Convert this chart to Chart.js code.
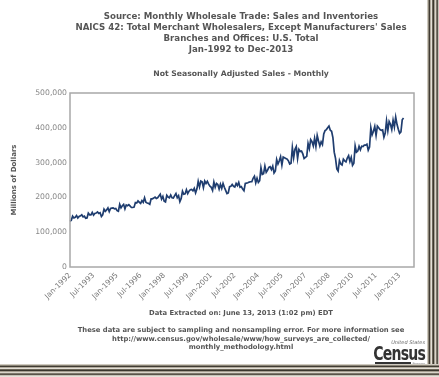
<!DOCTYPE html>
<html>
<head>
<meta charset="utf-8">
<script src="https://cdn.jsdelivr.net/npm/chart.js@4"></script>
<style>
  html, body { margin: 0; padding: 0; background: #fff; overflow: hidden; }
  #frame { position: relative; width: 439px; height: 377px; background: #fff; }
  .edge { position: absolute; }
  #rframe {
    left: 427px; top: 0; width: 12px; height: 377px;
    background: linear-gradient(to right, #cfcac0 0 1px, #8a8476 1px 2px, #403b33 2px 3px, #b3ac9e 3px 4px,
      #e3dfd7 4px 5px, #6d6759 5px 6px, #3a362e 6px 7px, #a49d8f 7px 8px, #d9d4ca 8px 9px,
      #7e786b 9px 10px, #58534a 10px 11px, #c8c2b7 11px 12px);
  }
  #bframe {
    left: 0; top: 364px; width: 439px; height: 13px;
    background: linear-gradient(to bottom, #cfcac0 0 1px, #8a8476 1px 2px, #403b33 2px 3px, #b3ac9e 3px 4px,
      #e3dfd7 4px 5px, #6d6759 5px 6px, #3a362e 6px 7px, #a49d8f 7px 8px, #d9d4ca 8px 9px,
      #7e786b 9px 10px, #58534a 10px 11px, #c8c2b7 11px 12px, #e6e2da 12px 13px);
  }
  canvas { position: absolute; left: 0; top: 0; }
  .txt { position: absolute; left: 41px; width: 400px; text-align: center; color: #555;
         font-family: "DejaVu Sans", Verdana, sans-serif; font-weight: bold; white-space: nowrap; }
  #title { top: 11px; font-size: 8.65px; line-height: 11px; }
  #sub { top: 69px; font-size: 7.7px; line-height: 10px; }
  #extract { top: 309px; font-size: 6.8px; line-height: 9px; }
  #note { top: 326px; font-size: 6.8px; line-height: 8.6px; }
  #logo { position: absolute; left: 345px; top: 339px; width: 80px; color: #333; text-align: right; }
  #logo .us { font: italic 5px/6px "DejaVu Sans", sans-serif; color: #666; }
  #logo .cen { font: bold 20px/16px "DejaVu Sans Condensed", "Liberation Sans", sans-serif;
               letter-spacing: -1px; transform: scaleX(0.78); transform-origin: right center; white-space: nowrap; }
  #logo .bar { height: 2px; background: #333; margin: 1px 0 0 30px; width: 36px; }
  #logo .bu { font: 3.5px "DejaVu Sans", sans-serif; color: #666; margin-top: -2px; }
</style>
</head>
<body>
<div id="frame">
  <canvas id="salesChart" width="427" height="364"></canvas>
  <div class="txt" id="title">Source: Monthly Wholesale Trade: Sales and Inventories<br>NAICS 42: Total Merchant Wholesalers, Except Manufacturers' Sales<br>Branches and Offices: U.S. Total<br>Jan-1992 to Dec-2013</div>
  <div class="txt" id="sub">Not Seasonally Adjusted Sales - Monthly</div>
  <div class="txt" id="extract">Data Extracted on: June 13, 2013 (1:02 pm) EDT</div>
  <div class="txt" id="note">These data are subject to sampling and nonsampling error. For more information see<br>http://www.census.gov/wholesale/www/how_surveys_are_collected/<br>monthly_methodology.html</div>
  <div id="logo"><div class="us">United States</div><div class="cen">Census</div><div class="bar"></div><div class="bu">Bureau</div></div>
  <div class="edge" id="rframe"></div>
  <div class="edge" id="bframe"></div>
</div>
<script>
const months = ['Jan', 'Feb', 'Mar', 'Apr', 'May', 'Jun', 'Jul', 'Aug', 'Sep', 'Oct', 'Nov', 'Dec'];
const years = [1992, 1993, 1994, 1995, 1996, 1997, 1998, 1999, 2000, 2001, 2002, 2003,
               2004, 2005, 2006, 2007, 2008, 2009, 2010, 2011, 2012, 2013];

// monthly sales, millions of dollars
const s1992 = [131000, 134000, 146000, 141000, 143000, 148000, 141000, 145000, 147000, 150000, 144000, 146000];
const s1993 = [140000, 141000, 155000, 150000, 150000, 157000, 149000, 154000, 155000, 158000, 154000, 156000];
const s1994 = [145000, 150000, 166000, 160000, 164000, 170000, 159000, 168000, 169000, 170000, 167000, 168000];
const s1995 = [162000, 160000, 180000, 170000, 176000, 180000, 167000, 178000, 176000, 179000, 175000, 171000];
const s1996 = [171000, 172000, 185000, 184000, 190000, 186000, 183000, 191000, 186000, 199000, 186000, 184000];
const s1997 = [183000, 180000, 196000, 196000, 198000, 201000, 197000, 199000, 204000, 209000, 195000, 203000];
const s1998 = [189000, 187000, 206000, 201000, 199000, 207000, 199000, 198000, 205000, 211000, 199000, 205000];
const s1999 = [188000, 197000, 218000, 209000, 210000, 222000, 211000, 218000, 222000, 223000, 219000, 226000];
const s2000 = [213000, 224000, 246000, 230000, 247000, 245000, 228000, 247000, 240000, 246000, 238000, 232000];
const s2001 = [229000, 220000, 244000, 229000, 240000, 237000, 224000, 238000, 226000, 240000, 229000, 220000];
const s2002 = [211000, 213000, 231000, 232000, 237000, 232000, 230000, 240000, 234000, 243000, 229000, 231000];
const s2003 = [224000, 219000, 240000, 241000, 242000, 244000, 245000, 245000, 255000, 261000, 242000, 255000];
const s2004 = [243000, 248000, 285000, 266000, 268000, 290000, 272000, 278000, 286000, 288000, 280000, 290000];
const s2005 = [270000, 276000, 309000, 296000, 305000, 317000, 293000, 316000, 314000, 312000, 310000, 305000];
const s2006 = [296000, 298000, 343000, 314000, 338000, 346000, 312000, 338000, 332000, 333000, 325000, 312000];
const s2007 = [315000, 318000, 355000, 340000, 366000, 360000, 348000, 370000, 346000, 378000, 362000, 348000];
const s2008 = [360000, 352000, 382000, 392000, 395000, 400000, 405000, 393000, 390000, 372000, 330000, 312000];
const s2009 = [282000, 276000, 306000, 296000, 293000, 310000, 305000, 302000, 313000, 320000, 303000, 315000];
const s2010 = [292000, 298000, 348000, 330000, 333000, 347000, 337000, 347000, 346000, 350000, 350000, 353000];
const s2011 = [336000, 345000, 400000, 380000, 390000, 404000, 378000, 405000, 400000, 395000, 393000, 394000];
const s2012 = [373000, 385000, 420000, 392000, 418000, 410000, 395000, 422000, 402000, 431000, 410000, 396000];
const s2013 = [384000, 388000, 423000, 428000];

const yTicks = [0, 100000, 200000, 300000, 400000, 500000];
const labelEvery = 18;

const labels = [];
years.forEach(y => months.forEach(m => labels.push(m + '-' + y)));
const sales = [].concat(s1992, s1993, s1994, s1995, s1996, s1997, s1998, s1999, s2000, s2001, s2002,
                        s2003, s2004, s2005, s2006, s2007, s2008, s2009, s2010, s2011, s2012, s2013);

const plotFrame = {
    id: 'plotFrame',
    afterDraw(chart) {
        const a = chart.chartArea, c = chart.ctx;
        c.save();
        c.strokeStyle = '#a8a8a8';
        c.lineWidth = 1.5;
        c.strokeRect(a.left, a.top, a.right - a.left, a.bottom - a.top);
        c.restore();
    }
};

const ctx = document.getElementById('salesChart').getContext('2d');
new Chart(ctx, {
    type: 'line',
    data: {
        labels: labels,
        datasets: [{
            data: sales,
            borderColor: '#1f3d6f',
            borderWidth: 1.7,
            pointRadius: 0,
            tension: 0,
            fill: false
        }]
    },
    options: {
        responsive: false,
        animation: false,
        layout: { padding: { top: 93, right: 13, bottom: 57, left: 0 } },
        plugins: { legend: { display: false }, tooltip: { enabled: false } },
        scales: {
            x: {
                type: 'category',
                grid: { display: false, drawTicks: false },
                border: { display: false },
                ticks: {
                    autoSkip: false,
                    minRotation: 45,
                    maxRotation: 45,
                    padding: 4,
                    color: '#777',
                    font: { family: 'DejaVu Sans', size: 7.5 },
                    callback: (v, i) => (i % labelEvery === 0 ? labels[i] : null)
                },
                afterFit: s => { s.height = 40; }
            },
            y: {
                min: 0,
                max: 500000,
                grid: { display: false, drawTicks: false },
                border: { display: false },
                afterBuildTicks: s => { s.ticks = yTicks.map(v => ({ value: v })); },
                ticks: {
                    padding: 3,
                    color: '#888',
                    font: { family: 'DejaVu Sans', size: 7.7 },
                    callback: v => v.toLocaleString('en-US')
                },
                title: {
                    display: true,
                    text: 'Millions of Dollars',
                    color: '#555',
                    font: { family: 'DejaVu Sans', size: 7, weight: 'bold' },
                    padding: { top: 10, bottom: 0 }
                },
                afterFit: s => { s.width = 70; }
            }
        }
    },
    plugins: [plotFrame]
});
</script>
</body>
</html>
